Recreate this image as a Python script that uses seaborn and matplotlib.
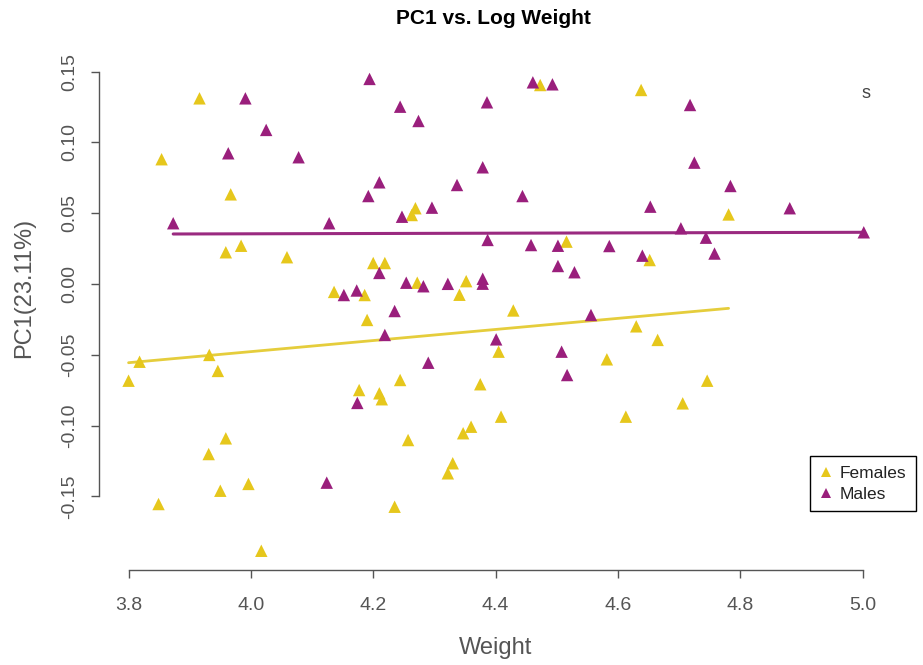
import matplotlib
matplotlib.use("Agg")
import matplotlib.pyplot as plt
import seaborn as sns
import pandas as pd

# ---- data ----
female_weight = [3.800, 3.818, 3.916, 3.854, 3.932, 3.946, 3.959, 3.967, 3.984, 3.931,
                 3.959, 3.950, 3.849, 3.996, 4.017, 4.059, 4.136, 4.186, 4.190, 4.177,
                 4.210, 4.214, 4.200, 4.219, 4.269, 4.263, 4.272, 4.244, 4.257, 4.235,
                 4.352, 4.341, 4.330, 4.322, 4.360, 4.347, 4.375, 4.409, 4.405, 4.429,
                 4.473, 4.516, 4.582, 4.613, 4.630, 4.638, 4.652, 4.665, 4.706, 4.746,
                 4.781]
female_pc1 = [-0.0683, -0.0549, 0.1311, 0.0881, -0.0501, -0.0614, 0.0224, 0.0633, 0.0270, -0.1201,
              -0.1090, -0.1460, -0.1554, -0.1412, -0.1884, 0.0189, -0.0056, -0.0078, -0.0254, -0.0749,
              -0.0772, -0.0814, 0.0148, 0.0148, 0.0535, 0.0487, 0.0009, -0.0678, -0.1102, -0.1573,
              0.0020, -0.0076, -0.1266, -0.1337, -0.1008, -0.1054, -0.0708, -0.0937, -0.0478, -0.0187,
              0.1405, 0.0299, -0.0532, -0.0937, -0.0299, 0.1370, 0.0169, -0.0395, -0.0843, -0.0683,
              0.0491]

male_weight = [3.873, 3.991, 4.025, 3.963, 4.078, 4.128, 4.124, 4.152, 4.173, 4.174,
               4.194, 4.244, 4.274, 4.386, 4.461, 4.493, 4.379, 4.210, 4.337, 4.192,
               4.444, 4.247, 4.296, 4.387, 4.458, 4.502, 4.210, 4.502, 4.529, 4.254,
               4.282, 4.322, 4.379, 4.379, 4.235, 4.219, 4.401, 4.290, 4.508, 4.517,
               4.556, 4.718, 4.725, 4.784, 4.653, 4.881, 4.703, 4.744, 5.002, 4.586,
               4.640, 4.758]
male_pc1 = [0.0429, 0.1311, 0.1088, 0.0923, 0.0895, 0.0429, -0.1403, -0.0078, -0.0046, -0.0840,
            0.1448, 0.1252, 0.1151, 0.1283, 0.1424, 0.1410, 0.0824, 0.0718, 0.0699, 0.0621,
            0.0621, 0.0475, 0.0539, 0.0311, 0.0275, 0.0270, 0.0078, 0.0127, 0.0083, 0.0009,
            -0.0016, 0.0001, 0.0037, 0.0002, -0.0191, -0.0360, -0.0391, -0.0556, -0.0478, -0.0643,
            -0.0219, 0.1264, 0.0857, 0.0692, 0.0546, 0.0535, 0.0393, 0.0327, 0.0365, 0.0268,
            0.0200, 0.0215]

# fitted lines as drawn in the reference (end points)
female_fit_weight = [3.800, 4.781]
female_fit_pc1 = [-0.0556, -0.0172]
male_fit_weight = [3.873, 5.002]
male_fit_pc1 = [0.0353, 0.0365]

groups = ["Females", "Males"]
x_ticks = [3.8, 4.0, 4.2, 4.4, 4.6, 4.8, 5.0]
y_ticks = [-0.15, -0.10, -0.05, 0.00, 0.05, 0.10, 0.15]

colors = {"Females": "#E6C71C", "Males": "#9A1F7C"}
line_colors = {"Females": "#E5CD3C", "Males": "#9A2A80"}

df = pd.DataFrame({
    "Weight": female_weight + male_weight,
    "PC1": female_pc1 + male_pc1,
    "Sex": ["Females"] * len(female_weight) + ["Males"] * len(male_weight),
})
fit_f = pd.DataFrame({"Weight": female_fit_weight, "PC1": female_fit_pc1})
fit_m = pd.DataFrame({"Weight": male_fit_weight, "PC1": male_fit_pc1})

sns.set_theme(style="white")
plt.rcParams["font.family"] = ["Liberation Sans Narrow", "Liberation Sans", "DejaVu Sans"]

W, H = 923, 665
fig = plt.figure(figsize=(W / 100, H / 100), dpi=100)
left, right, top, bottom = 99.2, 891.9, 60.1, 569.6
ax = fig.add_axes([left / W, 1 - bottom / H, (right - left) / W, (bottom - top) / H])

sns.lineplot(data=fit_f, x="Weight", y="PC1", ax=ax, color=line_colors["Females"], lw=2.0, zorder=1)
sns.lineplot(data=fit_m, x="Weight", y="PC1", ax=ax, color=line_colors["Males"], lw=2.2, zorder=1)
sns.scatterplot(data=df, x="Weight", y="PC1", hue="Sex", hue_order=groups, palette=colors,
                marker="^", s=80, linewidth=0, ax=ax, zorder=2)

ax.set_xlim(3.752, 5.048)
ax.set_ylim(-0.2017, 0.1581)
ax.set_xticks(x_ticks)
ax.set_xticklabels([f"{v:.1f}" for v in x_ticks])
ax.set_yticks(y_ticks)
ax.set_yticklabels([f"{v:.2f}" for v in y_ticks])

for s in ["top", "right"]:
    ax.spines[s].set_visible(False)
for s in ["left", "bottom"]:
    ax.spines[s].set_color("#555555")
    ax.spines[s].set_linewidth(1.0)
ax.spines["left"].set_bounds(-0.15, 0.15)
ax.spines["bottom"].set_bounds(3.8, 5.0)

ax.tick_params(axis="both", direction="out", length=6, width=1.0, color="#555555",
               labelsize=14, labelcolor="#555555")
ax.tick_params(axis="x", pad=14)
ax.tick_params(axis="y", pad=9, left=True)
ax.tick_params(axis="x", bottom=True)
for lab in ax.get_yticklabels():
    lab.set_rotation(90)
    lab.set_va("center")

ax.set_xlabel("Weight", fontsize=17, color="#555555")
ax.set_ylabel("PC1(23.11%)", fontsize=17, color="#555555")
ax.xaxis.label.set_va("center")
ax.yaxis.label.set_va("center")
ax.xaxis.set_label_coords(0.5, (bottom - 648) / (bottom - top))
ax.yaxis.set_label_coords((24 - left) / (right - left), (bottom - 288) / (bottom - top))

fig.text(493.5 / W, 1 - 18 / H, "PC1 vs. Log Weight", ha="center", va="center",
         fontsize=15, fontweight="bold", color="black", family=["Liberation Sans", "DejaVu Sans"])
fig.text(866 / W, 1 - 93 / H, "s", ha="center", va="center", fontsize=13, color="#444444",
         family=["Liberation Sans", "DejaVu Sans"])

leg = ax.legend(loc="upper left", bbox_to_anchor=(810 / W, 1 - 456 / H), bbox_transform=fig.transFigure,
                frameon=True, fancybox=False, edgecolor="black", framealpha=1, borderaxespad=0,
                markerscale=0.75, handletextpad=0.35, borderpad=0.55, labelspacing=0.35,
                handlelength=0.8, title=None,
                prop={"family": ["Liberation Sans", "DejaVu Sans"], "size": 12.5})
leg.get_frame().set_linewidth(1.0)
for t in leg.get_texts():
    t.set_color("#222222")

fig.savefig("out.png", dpi=100, facecolor="white")
